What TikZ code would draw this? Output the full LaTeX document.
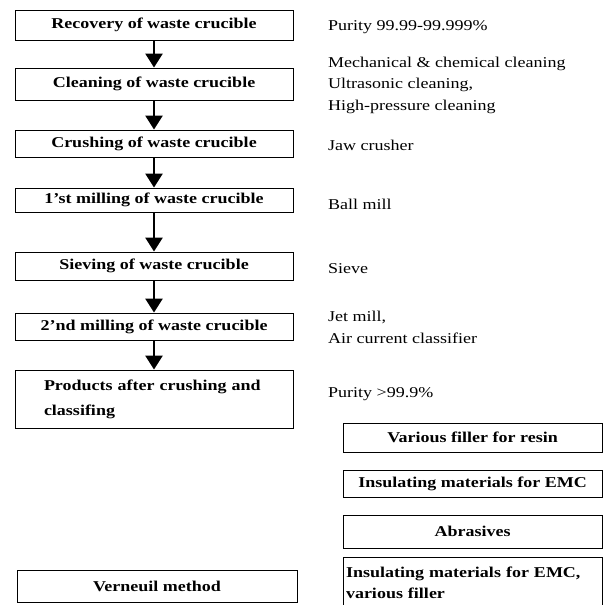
\documentclass[tikz,border=0pt]{standalone}
\usepackage{fontspec}
\setmainfont[FakeStretch=1.2]{Liberation Serif}
\usetikzlibrary{arrows.meta}
\tikzset{
    stepbox/.style={draw, line width=0.9pt, minimum width=278pt, inner sep=0pt, font=\fontsize{15}{19}\selectfont\bfseries},
    usebox/.style={draw, line width=0.9pt, minimum width=259pt, inner sep=0pt, font=\fontsize{15}{19}\selectfont\bfseries},
    note/.style={anchor=base west, align=left, inner sep=0pt, font=\fontsize{15}{21.5}\selectfont},
    flowarrow/.style={-{Triangle[length=14pt,width=17pt]}, line width=2.6pt}
}

\begin{document}
\begin{tikzpicture}[x=1pt,y=-1pt]
    \useasboundingbox (0,0) rectangle (603,605);

    % process chain
    \node[stepbox, minimum height=30pt] (recovery) at (154,25) {Recovery of waste crucible};
    \node[stepbox, minimum height=32pt] (cleaning) at (154,84) {Cleaning of waste crucible};
    \node[stepbox, minimum height=27pt] (crushing) at (154,143.5) {Crushing of waste crucible};
    \node[stepbox, minimum height=24pt] (milla) at (154,200) {1'st milling of waste crucible};
    \node[stepbox, minimum height=28pt] (sieving) at (154,266) {Sieving of waste crucible};
    \node[stepbox, minimum height=27pt] (millb) at (154,326.5) {2'nd milling of waste crucible};
    \node[stepbox, minimum height=58pt, text width=220pt, inner xsep=29pt, align=left, font=\fontsize{15}{25}\selectfont\bfseries] (products) at (154,399) {Products after crushing and\\classifing};

    \path [flowarrow](recovery) edge (cleaning);
    \path [flowarrow](cleaning) edge (crushing);
    \path [flowarrow](crushing) edge (milla);
    \path [flowarrow](milla) edge (sieving);
    \path [flowarrow](sieving) edge (millb);
    \path [flowarrow](millb) edge (products);

    % remarks (base = last line)
    \node[note] (purityin) at (328,30) {Purity 99.99-99.999\%};
    \node[note] (cleannote) at (328,110) {Mechanical \& chemical cleaning\\Ultrasonic cleaning,\\High-pressure cleaning};
    \node[note] (jaw) at (328,150) {Jaw crusher};
    \node[note] (ball) at (328,209) {Ball mill};
    \node[note] (sieve) at (328,273) {Sieve};
    \node[note] (jet) at (328,343) {Jet mill,\\Air current classifier};
    \node[note] (purityout) at (328,397) {Purity >99.9\%};

    % uses
    \node[usebox, minimum height=29pt] (filler) at (472.5,437.5) {Various filler for resin};
    \node[usebox, minimum height=27pt] (emc) at (472.5,483.5) {Insulating materials for EMC};
    \node[usebox, minimum height=33pt] (abrasive) at (472.5,531.5) {Abrasives};
    \node[usebox, minimum height=50pt, text width=253pt, inner xsep=3pt, align=left, anchor=north, font=\fontsize{15}{21}\selectfont\bfseries] (emcfiller) at (472.5,557) {Insulating materials for EMC,\\various filler};
    \node[stepbox, minimum width=280pt, minimum height=32pt] (verneuil) at (157,586) {Verneuil method};
\end{tikzpicture}
\end{document}
